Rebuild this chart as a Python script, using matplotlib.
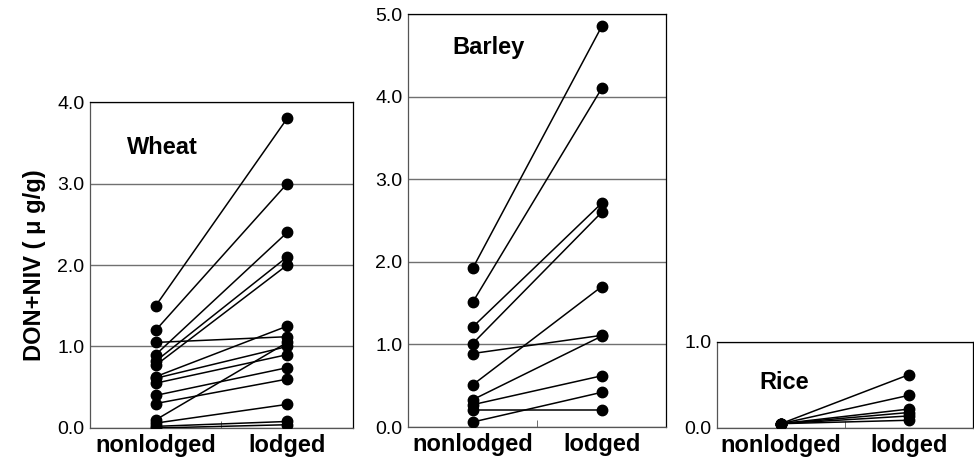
import matplotlib
matplotlib.use('Agg')
import matplotlib.pyplot as plt
import numpy as np

plt.rcParams['font.family'] = ['Liberation Sans', 'DejaVu Sans']

categories = ['nonlodged', 'lodged']

wheat_nonlodged = [1.5, 1.2, 1.05, 0.9, 0.82, 0.77, 0.63, 0.61, 0.55, 0.4, 0.3, 0.1, 0.06, 0.02, 0.0]
wheat_lodged = [3.8, 3.0, 1.12, 2.4, 2.1, 2.0, 1.25, 1.0, 0.9, 0.74, 0.6, 1.05, 0.29, 0.08, 0.04]

barley_nonlodged = [1.92, 1.51, 1.21, 1.01, 0.89, 0.51, 0.33, 0.27, 0.21, 0.06]
barley_lodged = [4.85, 4.1, 2.71, 2.6, 1.11, 1.7, 1.1, 0.62, 0.21, 0.42]

rice_nonlodged = [0.05, 0.05, 0.05, 0.05, 0.05, 0.05]
rice_lodged = [0.62, 0.38, 0.22, 0.18, 0.14, 0.09]

panels = [
    ('Wheat', wheat_nonlodged, wheat_lodged, 4, [0.0924, 0.0796, 0.270, 0.701], (0.14, 0.86)),
    ('Barley', barley_nonlodged, barley_lodged, 5, [0.419, 0.0817, 0.265, 0.888], (0.17, 0.918)),
    ('Rice', rice_nonlodged, rice_lodged, 1, [0.736, 0.0796, 0.263, 0.185], (0.165, 0.53)),
]

fig = plt.figure(figsize=(9.74, 4.65), dpi=100)

for name, before, after, ymax, rect, txt in panels:
    ax = fig.add_axes(rect)
    x = [0.5, 1.5]
    for b, a in zip(before, after):
        ax.plot(x, [b, a], color='black', lw=1.1, marker='o', ms=7.5, zorder=3)
    ax.set_xlim(0, 2)
    ax.set_ylim(0, ymax)
    ax.set_yticks(np.arange(0, ymax + 1))
    ax.set_yticklabels(['%.1f' % v for v in np.arange(0, ymax + 1)], fontsize=14)
    ax.set_xticks(x)
    ax.set_xticklabels(categories, fontsize=17, fontweight='bold')
    ax.set_xticks([1], minor=True)
    ax.tick_params(axis='x', which='major', length=0, pad=4)
    ax.tick_params(axis='x', which='minor', direction='in', length=5, color='#555555')
    ax.tick_params(axis='y', length=0, pad=4)
    ax.grid(axis='y', color='#707070', lw=1)
    ax.set_axisbelow(True)
    for s in ax.spines.values():
        s.set_linewidth(0.9)
    ax.spines['left'].set_color('#555555')
    ax.spines['bottom'].set_color('#555555')
    ax.text(txt[0], txt[1], name, transform=ax.transAxes, fontsize=17,
            fontweight='bold', va='center', ha='left')
    if name == 'Wheat':
        ax.set_ylabel('DON+NIV ( \u03bc g/g)', fontsize=17, fontweight='bold', labelpad=8)

fig.savefig('out.png', dpi=100)
